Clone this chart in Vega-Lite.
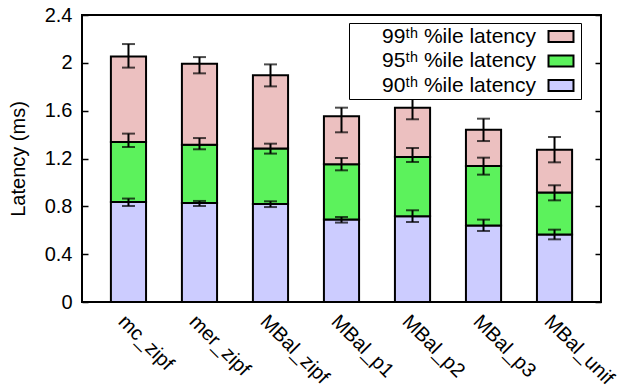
{
  "$schema": "https://vega.github.io/schema/vega-lite/v6.json",
  "autosize": "none",
  "padding": {"left": 82, "top": 15, "right": 25, "bottom": 86},
  "width": 519,
  "height": 287,
  "config": {
    "font": "Liberation Sans",
    "view": {"stroke": "#000", "strokeWidth": 2},
    "axis": {"labelFont": "Liberation Sans", "titleFont": "Liberation Sans", "labelColor": "#000", "titleColor": "#000", "grid": false}
  },
  "data": {"values": [
    {"cat": "mc_zipf", "s": "90\u1d57\u02b0 %ile latency", "lo": 0, "hi": 0.836, "elo": 0.803, "ehi": 0.865},
    {"cat": "mc_zipf", "s": "95\u1d57\u02b0 %ile latency", "lo": 0.836, "hi": 1.338, "elo": 1.296, "ehi": 1.408},
    {"cat": "mc_zipf", "s": "99\u1d57\u02b0 %ile latency", "lo": 1.338, "hi": 2.054, "elo": 1.96, "ehi": 2.157},
    {"cat": "mer_zipf", "s": "90\u1d57\u02b0 %ile latency", "lo": 0, "hi": 0.828, "elo": 0.803, "ehi": 0.845},
    {"cat": "mer_zipf", "s": "95\u1d57\u02b0 %ile latency", "lo": 0.828, "hi": 1.316, "elo": 1.277, "ehi": 1.371},
    {"cat": "mer_zipf", "s": "99\u1d57\u02b0 %ile latency", "lo": 1.316, "hi": 1.993, "elo": 1.912, "ehi": 2.048},
    {"cat": "MBal_zipf", "s": "90\u1d57\u02b0 %ile latency", "lo": 0, "hi": 0.819, "elo": 0.794, "ehi": 0.842},
    {"cat": "MBal_zipf", "s": "95\u1d57\u02b0 %ile latency", "lo": 0.819, "hi": 1.283, "elo": 1.241, "ehi": 1.324},
    {"cat": "MBal_zipf", "s": "99\u1d57\u02b0 %ile latency", "lo": 1.283, "hi": 1.896, "elo": 1.803, "ehi": 1.987},
    {"cat": "MBal_p1", "s": "90\u1d57\u02b0 %ile latency", "lo": 0, "hi": 0.689, "elo": 0.664, "ehi": 0.711},
    {"cat": "MBal_p1", "s": "95\u1d57\u02b0 %ile latency", "lo": 0.689, "hi": 1.151, "elo": 1.101, "ehi": 1.204},
    {"cat": "MBal_p1", "s": "99\u1d57\u02b0 %ile latency", "lo": 1.151, "hi": 1.553, "elo": 1.419, "ehi": 1.625},
    {"cat": "MBal_p2", "s": "90\u1d57\u02b0 %ile latency", "lo": 0, "hi": 0.717, "elo": 0.669, "ehi": 0.767},
    {"cat": "MBal_p2", "s": "95\u1d57\u02b0 %ile latency", "lo": 0.717, "hi": 1.212, "elo": 1.171, "ehi": 1.288},
    {"cat": "MBal_p2", "s": "99\u1d57\u02b0 %ile latency", "lo": 1.212, "hi": 1.625, "elo": 1.528, "ehi": 1.701},
    {"cat": "MBal_p3", "s": "90\u1d57\u02b0 %ile latency", "lo": 0, "hi": 0.639, "elo": 0.594, "ehi": 0.689},
    {"cat": "MBal_p3", "s": "95\u1d57\u02b0 %ile latency", "lo": 0.639, "hi": 1.137, "elo": 1.065, "ehi": 1.207},
    {"cat": "MBal_p3", "s": "99\u1d57\u02b0 %ile latency", "lo": 1.137, "hi": 1.441, "elo": 1.346, "ehi": 1.533},
    {"cat": "MBal_unif", "s": "90\u1d57\u02b0 %ile latency", "lo": 0, "hi": 0.564, "elo": 0.524, "ehi": 0.605},
    {"cat": "MBal_unif", "s": "95\u1d57\u02b0 %ile latency", "lo": 0.564, "hi": 0.915, "elo": 0.85, "ehi": 0.976},
    {"cat": "MBal_unif", "s": "99\u1d57\u02b0 %ile latency", "lo": 0.915, "hi": 1.274, "elo": 1.168, "ehi": 1.38}
  ]},
  "encoding": {
    "x": {
      "field": "cat", "type": "nominal", "sort": null, "title": null,
      "scale": {"paddingInner": 0.505, "paddingOuter": 0.407},
      "axis": {"domain": false, "ticks": false, "labelAngle": 45, "labelAlign": "left", "labelBaseline": "top", "labelFontSize": 20, "labelPadding": 9}
    }
  },
  "layer": [
    {
      "mark": {"type": "bar", "stroke": "#000", "strokeWidth": 2},
      "encoding": {
        "y": {
          "field": "lo", "type": "quantitative",
          "scale": {"domain": [0, 2.4], "nice": false},
          "axis": {"title": "Latency (ms)", "titleFontSize": 20, "titleFontWeight": "normal", "titlePadding": 16, "values": [0, 0.4, 0.8, 1.2, 1.6, 2, 2.4], "format": "~g", "domain": false, "tickSize": -6, "tickColor": "#000", "tickWidth": 1.5, "labelFontSize": 20, "labelPadding": 16}
        },
        "y2": {"field": "hi"},
        "fill": {
          "field": "s", "type": "nominal", "title": null,
          "scale": {"domain": ["99\u1d57\u02b0 %ile latency", "95\u1d57\u02b0 %ile latency", "90\u1d57\u02b0 %ile latency"], "range": ["#ecc0c0", "#5cf25c", "#ccccff"]},
          "legend": {
            "orient": "none", "legendX": 267, "legendY": 8,
            "strokeColor": "#000", "fillColor": "#fff", "padding": 3,
            "labelFontSize": 21, "labelFont": "Liberation Sans", "labelColor": "#000",
            "symbolType": "M-2,-0.9H2V0.9H-2Z", "symbolSize": 156, "symbolStrokeColor": "#000", "symbolStrokeWidth": 2,
            "symbolOpacity": 1, "rowPadding": 2.5, "labelLimit": 300,
            "encode": {
              "labels": {"update": {"align": {"value": "right"}, "x": {"value": 184}}},
              "symbols": {"update": {"x": {"value": 209}}},
              "entries": {"update": {"width": {"value": 232}, "fill": {"value": "transparent"}}}
            }
          }
        }
      }
    },
    {
      "mark": {"type": "rule", "color": "#000", "strokeWidth": 2},
      "encoding": {
        "y": {"field": "elo", "type": "quantitative", "axis": {"orient": "right", "labels": false, "title": null, "domain": false, "values": [0, 0.4, 0.8, 1.2, 1.6, 2, 2.4], "tickSize": -6, "tickColor": "#000", "tickWidth": 1.5}},
        "y2": {"field": "ehi"}
      }
    },
    {
      "mark": {"type": "tick", "color": "#000", "thickness": 2, "size": 13, "orient": "horizontal"},
      "encoding": {"y": {"field": "elo", "type": "quantitative", "axis": null}}
    },
    {
      "mark": {"type": "tick", "color": "#000", "thickness": 2, "size": 13, "orient": "horizontal"},
      "encoding": {"y": {"field": "ehi", "type": "quantitative", "axis": null}}
    }
  ],
  "resolve": {"axis": {"y": "independent"}}
}
